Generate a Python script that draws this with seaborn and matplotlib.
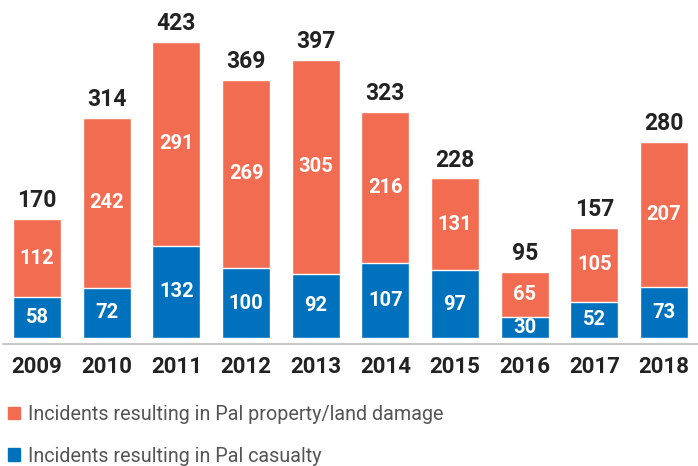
import matplotlib
matplotlib.use("Agg")
import matplotlib.pyplot as plt
import matplotlib.patches as mpatches
import seaborn as sns
import pandas as pd

years = ["2009", "2010", "2011", "2012", "2013", "2014", "2015", "2016", "2017", "2018"]
casualty = [58, 72, 132, 100, 92, 107, 97, 30, 52, 73]
property_damage = [112, 242, 291, 269, 305, 216, 131, 65, 105, 207]
labels = ["Incidents resulting in Pal property/land damage",
          "Incidents resulting in Pal casualty"]

coral = "#F26C52"
blue = "#0071BC"

df = pd.DataFrame({"year": years, "casualty": casualty, "property": property_damage})
df["total"] = df["casualty"] + df["property"]

sns.set_style("white")
plt.rcParams["font.family"] = ["Roboto", "DejaVu Sans"]

fig = plt.figure(figsize=(6.98, 4.66), dpi=100)
# axes placed in pixels: bars start at y=338px, baseline at ~343px
ax = fig.add_axes([0, (466 - 345) / 466, 1, 345 / 466])

sns.barplot(data=df, x="year", y="total", color=coral, width=0.69,
            saturation=1, ax=ax)
sns.barplot(data=df, x="year", y="casualty", color=blue, width=0.69,
            saturation=1, ax=ax)

ax.set_xlim(-37 / 69.67, (698 - 37) / 69.67)
ax.set_ylim(-10, 483)

for i, row in df.iterrows():
    ax.text(i, row["casualty"] / 2, str(row["casualty"]), ha="center", va="center",
            color="white", fontsize=14.5, fontweight="bold")
    ax.text(i, row["casualty"] + row["property"] / 2, str(row["property"]),
            ha="center", va="center", color="white", fontsize=14.5, fontweight="bold")
    ax.annotate(str(row["total"]), (i, row["total"]), xytext=(0, 5),
                textcoords="offset points", ha="center", va="bottom",
                color="#222222", fontsize=16.5, fontweight="bold")

ax.axhline(-8, xmin=3 / 698, xmax=1, color="#c8c8c8", lw=1.5, clip_on=False)

for s in ax.spines.values():
    s.set_visible(False)
ax.set_yticks([])
ax.set_xlabel("")
ax.set_ylabel("")
ax.tick_params(axis="x", length=0, pad=8)
for t in ax.get_xticklabels():
    t.set_fontsize(16)
    t.set_fontweight("bold")
    t.set_color("#222222")

handles = [mpatches.Patch(color=coral), mpatches.Patch(color=blue)]
fig.legend(handles, labels, loc="upper left", bbox_to_anchor=(0.003, (466 - 399) / 466),
           frameon=False, handlelength=0.62, handleheight=0.62, handletextpad=0.4,
           labelspacing=1.15, fontsize=14.2, labelcolor="#555555",
           borderaxespad=0, borderpad=0.3)

fig.savefig("out.png", dpi=100)
